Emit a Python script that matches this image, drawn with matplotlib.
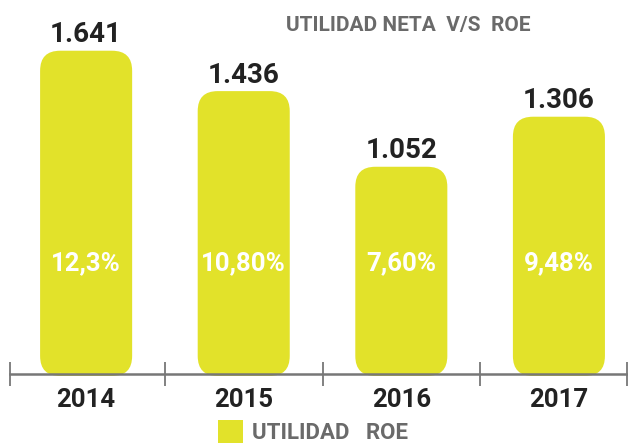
import matplotlib
matplotlib.use("Agg")
import matplotlib.pyplot as plt
from matplotlib.patches import FancyBboxPatch, Rectangle

years = ["2014", "2015", "2016", "2017"]
utilidad = [1.641, 1.436, 1.052, 1.306]
utilidad_labels = ["1.641", "1.436", "1.052", "1.306"]
roe_labels = ["12,3%", "10,80%", "7,60%", "9,48%"]
title = "UTILIDAD NETA  V/S  ROE"
legend_text = "UTILIDAD   ROE"

BAR = "#E2E22A"
GRAY = "#6a6a6a"
DARK = "#222222"
FONT = "Roboto"

W, H = 628, 443
fig = plt.figure(figsize=(W / 100, H / 100), dpi=100)
ax_left, ax_right = 10 / W, 627 / W
ax_bottom = 1 - 374 / H
ax = fig.add_axes([ax_left, ax_bottom, ax_right - ax_left, 1 - ax_bottom])

xl = (-0.483, 3.432)
yl = (0, 374 / 197)
ax.set_xlim(*xl)
ax.set_ylim(*yl)

# pixel scales
px_x = (xl[1] - xl[0]) / (W * (ax_right - ax_left))
px_y = (yl[1] - yl[0]) / (H * (1 - ax_bottom))

bw = 0.584
r_px = 20
for i, v in enumerate(utilidad):
    p = FancyBboxPatch((i - bw / 2, -2 * px_y), bw, v + 2 * px_y,
                       boxstyle=f"round,pad=0,rounding_size={r_px * px_x}",
                       mutation_aspect=px_y / px_x,
                       facecolor=BAR, edgecolor="none", clip_on=False, zorder=1)
    ax.add_patch(p)
    ax.text(i, v + 16 * px_y, utilidad_labels[i], ha="center", va="center",
            fontsize=20, fontweight="bold", color=DARK, family=FONT)
    ax.text(i, (374 - 263) * px_y, roe_labels[i], ha="center", va="center",
            fontsize=18.5, fontweight="bold", color="white", family=FONT)

for s in ["top", "right", "left"]:
    ax.spines[s].set_visible(False)
ax.spines["bottom"].set_color("#777777")
ax.spines["bottom"].set_linewidth(1.8)
ax.spines["bottom"].set_zorder(3)
ax.set_yticks([])
ax.set_xticks(range(len(years)))
ax.set_xticklabels(years, fontsize=18.5, fontweight="bold", color=DARK, family=FONT)
ax.tick_params(axis="x", which="major", length=0, pad=10)
ax.set_xticks([xl[0] + 0.002, 0.5, 1.5, 2.5, xl[1] - 0.002], minor=True)
ax.tick_params(axis="x", which="minor", direction="inout", length=17,
               width=1.3, color="#777777")
ax.patch.set_alpha(0)

fig.text(408 / W, 1 - 25 / H, title, ha="center", va="center", fontsize=15,
         fontweight="bold", color=GRAY, family=FONT)

fig.patches.append(Rectangle((218 / W, 0), 25 / W, 23 / H, transform=fig.transFigure,
                             facecolor=BAR, edgecolor="none"))
fig.text(252 / W, 1 - 433 / H, legend_text, ha="left", va="center", fontsize=16,
         fontweight="bold", color=GRAY, family=FONT)

fig.savefig("out.png", dpi=100)
